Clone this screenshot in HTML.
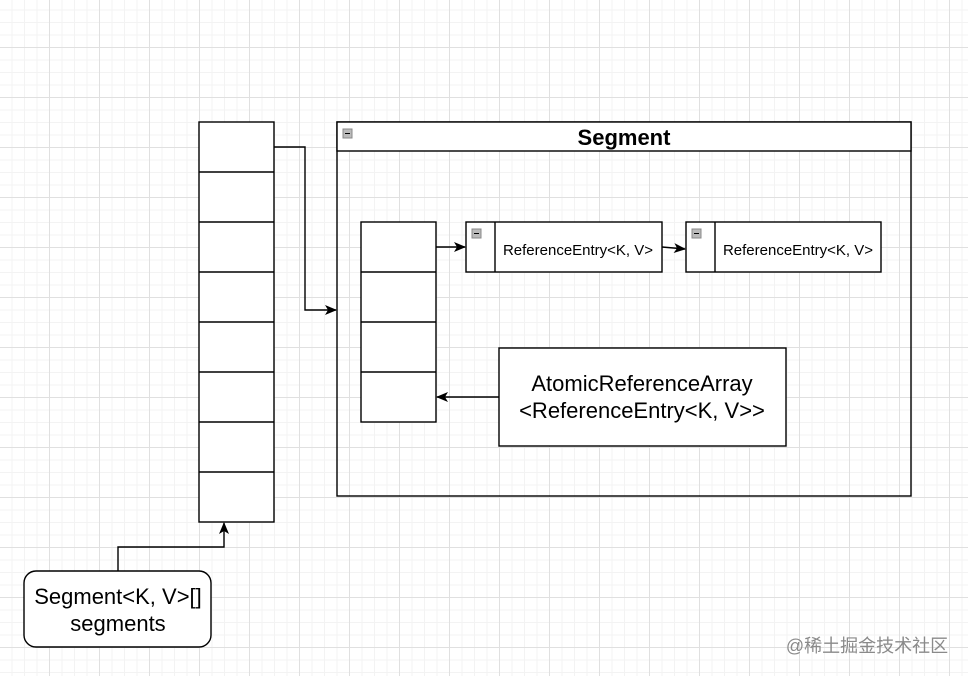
<!DOCTYPE html>
<html><head><style>
body{margin:0;width:968px;height:676px;overflow:hidden;background:#fff;font-family:"Liberation Sans",Arial,sans-serif;}
.bg{position:absolute;left:0;top:0;width:968px;height:676px;
background-image:
linear-gradient(to right,#e0e0e0 1px,transparent 1px),
linear-gradient(to bottom,#e0e0e0 1px,transparent 1px),
linear-gradient(to right,#f3f3f3 1px,transparent 1px),
linear-gradient(to bottom,#f3f3f3 1px,transparent 1px);
background-size:50px 50px,50px 50px,12.5px 12.5px,12.5px 12.5px;
background-position:49px 0,0 47px,11.5px 0,0 9.5px;}
</style></head><body>
<div class="bg"></div>
<svg width="968" height="676" style="position:absolute;left:0;top:0" font-family="Liberation Sans, Arial, sans-serif">
<defs><marker id="a" markerWidth="12" markerHeight="10" refX="11" refY="5" orient="auto" markerUnits="userSpaceOnUse"><path d="M0,0 L12,5 L0,10 L3,5z" fill="#000"/></marker></defs>
<g fill="#fff" stroke="#000" stroke-width="1.4">
<rect x="199" y="122" width="75" height="400"/>
</g>
<g stroke="#000" stroke-width="1.4">
<line x1="199" y1="172" x2="274" y2="172"/><line x1="199" y1="222" x2="274" y2="222"/><line x1="199" y1="272" x2="274" y2="272"/><line x1="199" y1="322" x2="274" y2="322"/><line x1="199" y1="372" x2="274" y2="372"/><line x1="199" y1="422" x2="274" y2="422"/><line x1="199" y1="472" x2="274" y2="472"/>
</g>
<rect x="337" y="122" width="574" height="374" fill="none" stroke="#000" stroke-width="1.4"/>
<rect x="337" y="122" width="574" height="29" fill="#fff" stroke="#000" stroke-width="1.4"/>
<rect x="343" y="129" width="9" height="9" fill="#bbb" stroke="#888"/><line x1="345" y1="133.5" x2="350" y2="133.5" stroke="#000"/>
<text x="624" y="145" text-anchor="middle" font-size="22" font-weight="bold">Segment</text>
<g fill="#fff" stroke="#000" stroke-width="1.4">
<rect x="361" y="222" width="75" height="200"/>
</g>
<g stroke="#000" stroke-width="1.4"><line x1="361" y1="272" x2="436" y2="272"/><line x1="361" y1="322" x2="436" y2="322"/><line x1="361" y1="372" x2="436" y2="372"/></g>
<rect x="466" y="222" width="196" height="50" fill="#fff" stroke="#000" stroke-width="1.4"/>
<line x1="495" y1="222" x2="495" y2="272" stroke="#000" stroke-width="1.4"/>
<rect x="472" y="229" width="9" height="9" fill="#bbb" stroke="#888"/><line x1="474" y1="233.5" x2="479" y2="233.5" stroke="#000"/>
<text x="578" y="255" text-anchor="middle" font-size="15">ReferenceEntry&lt;K, V&gt;</text>
<rect x="686" y="222" width="195" height="50" fill="#fff" stroke="#000" stroke-width="1.4"/>
<line x1="715" y1="222" x2="715" y2="272" stroke="#000" stroke-width="1.4"/>
<rect x="692" y="229" width="9" height="9" fill="#bbb" stroke="#888"/><line x1="694" y1="233.5" x2="699" y2="233.5" stroke="#000"/>
<text x="798" y="255" text-anchor="middle" font-size="15">ReferenceEntry&lt;K, V&gt;</text>
<rect x="499" y="348" width="287" height="98" fill="#fff" stroke="#000" stroke-width="1.4"/>
<text x="642" y="391" text-anchor="middle" font-size="22">AtomicReferenceArray</text>
<text x="642" y="418" text-anchor="middle" font-size="22">&lt;ReferenceEntry&lt;K, V&gt;&gt;</text>
<rect x="24" y="571" width="187" height="76" rx="12" fill="#fff" stroke="#000" stroke-width="1.4"/>
<text x="118" y="604" text-anchor="middle" font-size="22">Segment&lt;K, V&gt;[]</text>
<text x="118" y="631" text-anchor="middle" font-size="22">segments</text>
<g fill="none" stroke="#000" stroke-width="1.4" marker-end="url(#a)">
<path d="M274,147 H305 V310 H336"/>
<path d="M436,247 H465"/>
<path d="M662,247 L685,249"/>
<path d="M499,397 H437"/>
<path d="M118,571 V547 H224 V523"/>
</g>
<text x="867" y="652" text-anchor="middle" font-size="18" fill="#8a8a8a" font-family="Liberation Sans, Noto Sans CJK SC, sans-serif">@稀土掘金技术社区</text>
</svg>
</body></html>
